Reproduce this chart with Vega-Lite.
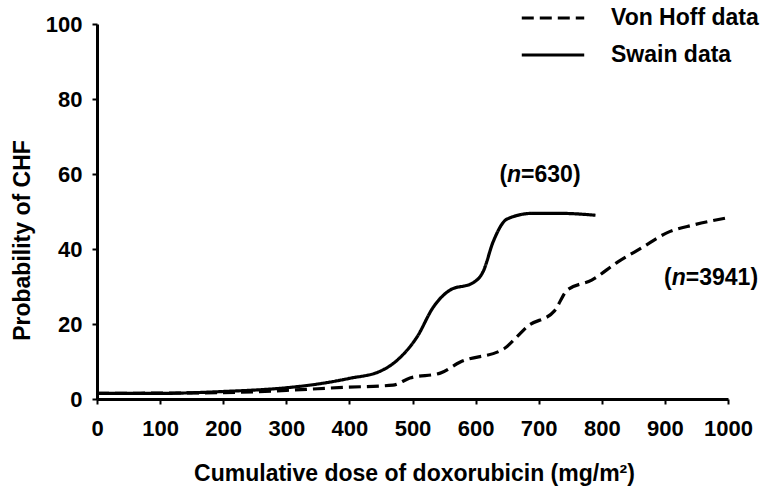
{
  "$schema": "https://vega.github.io/schema/vega-lite/v6.json",
  "autosize": "none",
  "width": 631,
  "height": 375,
  "padding": {"left": 97, "top": 24, "right": 44, "bottom": 87},
  "background": "white",
  "config": {
    "view": {"stroke": null},
    "font": "Liberation Sans",
    "axis": {"grid": false, "domainColor": "black", "domainWidth": 3, "tickColor": "black", "tickWidth": 2, "tickSize": 5, "labelFont": "Liberation Sans", "labelFontWeight": "bold", "labelFontSize": 22, "labelColor": "black", "labelOverlap": false, "labelFlush": false, "titleFont": "Liberation Sans", "titleFontWeight": "bold", "titleFontSize": 23, "titleColor": "black"}
  },
  "datasets": {
    "curves": [
      {"series": "Swain data", "dose": 0, "prob": 1.5},
      {"series": "Swain data", "dose": 100, "prob": 1.5},
      {"series": "Swain data", "dose": 200, "prob": 2},
      {"series": "Swain data", "dose": 300, "prob": 3},
      {"series": "Swain data", "dose": 350, "prob": 4},
      {"series": "Swain data", "dose": 400, "prob": 5.5},
      {"series": "Swain data", "dose": 450, "prob": 7.5},
      {"series": "Swain data", "dose": 480, "prob": 11},
      {"series": "Swain data", "dose": 507, "prob": 16.5},
      {"series": "Swain data", "dose": 533, "prob": 24.5},
      {"series": "Swain data", "dose": 559, "prob": 29},
      {"series": "Swain data", "dose": 596, "prob": 31},
      {"series": "Swain data", "dose": 612, "prob": 34},
      {"series": "Swain data", "dose": 628, "prob": 42},
      {"series": "Swain data", "dose": 650, "prob": 48},
      {"series": "Swain data", "dose": 690, "prob": 49.5},
      {"series": "Swain data", "dose": 735, "prob": 49.5},
      {"series": "Swain data", "dose": 790, "prob": 49},
      {"series": "Von Hoff data", "dose": 0, "prob": 1.5},
      {"series": "Von Hoff data", "dose": 200, "prob": 1.7},
      {"series": "Von Hoff data", "dose": 300, "prob": 2.3},
      {"series": "Von Hoff data", "dose": 390, "prob": 3.1},
      {"series": "Von Hoff data", "dose": 469, "prob": 3.7},
      {"series": "Von Hoff data", "dose": 496, "prob": 5.6},
      {"series": "Von Hoff data", "dose": 544, "prob": 6.9},
      {"series": "Von Hoff data", "dose": 575, "prob": 9.8},
      {"series": "Von Hoff data", "dose": 645, "prob": 13.4},
      {"series": "Von Hoff data", "dose": 665, "prob": 16.5},
      {"series": "Von Hoff data", "dose": 681, "prob": 19.2},
      {"series": "Von Hoff data", "dose": 725, "prob": 23.5},
      {"series": "Von Hoff data", "dose": 745, "prob": 29},
      {"series": "Von Hoff data", "dose": 784, "prob": 31.7},
      {"series": "Von Hoff data", "dose": 825, "prob": 36.5},
      {"series": "Von Hoff data", "dose": 865, "prob": 40.5},
      {"series": "Von Hoff data", "dose": 903, "prob": 44.3},
      {"series": "Von Hoff data", "dose": 945, "prob": 46.4},
      {"series": "Von Hoff data", "dose": 998, "prob": 48.3}
    ],
    "notes": [
      {"dose": 661, "prob": 59.7, "pre": "(", "n": "n", "post": "=630)"},
      {"dose": 922, "prob": 32.3, "pre": "(", "n": "n", "post": "=3941)"}
    ]
  },
  "layer": [
    {
      "data": {"name": "curves"},
      "mark": {"type": "line", "interpolate": "monotone", "strokeWidth": 3.2, "color": "black"},
      "encoding": {
        "x": {"field": "dose", "type": "quantitative", "scale": {"domain": [0, 1000], "nice": false}, "axis": {"values": [0, 100, 200, 300, 400, 500, 600, 700, 800, 900, 1000], "format": "d", "labelPadding": 14, "title": "Cumulative dose of doxorubicin (mg/m²)", "titleX": 317, "titleY": 74, "titleBaseline": "middle", "titleAlign": "center"}},
        "y": {"field": "prob", "type": "quantitative", "scale": {"domain": [0, 100], "nice": false}, "axis": {"values": [0, 20, 40, 60, 80, 100], "labelPadding": 10, "title": "Probability of CHF", "titleX": -75, "titleY": 216, "titleBaseline": "middle", "titleAlign": "center"}},
        "strokeDash": {"field": "series", "type": "nominal", "scale": {"domain": ["Von Hoff data", "Swain data"], "range": [[12, 6], [1, 0]]}, "legend": {"title": null, "orient": "none", "legendX": 423, "legendY": -21, "symbolType": "stroke", "symbolSize": 3900, "clipHeight": 30, "symbolStrokeWidth": 3, "symbolStrokeColor": "black", "symbolDash": [8, 7], "labelFont": "Liberation Sans", "labelFontWeight": "bold", "labelFontSize": 23, "labelColor": "black", "labelOffset": 25, "rowPadding": 7}}
      }
    },
    {
      "data": {"name": "notes"},
      "mark": {"type": "text", "font": "Liberation Sans", "fontWeight": "bold", "fontStyle": "italic", "fontSize": 23, "align": "center", "baseline": "middle", "color": "black"},
      "encoding": {"x": {"field": "dose", "type": "quantitative"}, "y": {"field": "prob", "type": "quantitative"}, "text": {"field": "n"}}
    },
    {
      "data": {"name": "notes"},
      "mark": {"type": "text", "font": "Liberation Sans", "fontWeight": "bold", "fontSize": 23, "align": "right", "baseline": "middle", "dx": -7, "color": "black"},
      "encoding": {"x": {"field": "dose", "type": "quantitative"}, "y": {"field": "prob", "type": "quantitative"}, "text": {"field": "pre"}}
    },
    {
      "data": {"name": "notes"},
      "mark": {"type": "text", "font": "Liberation Sans", "fontWeight": "bold", "fontSize": 23, "align": "left", "baseline": "middle", "dx": 7, "color": "black"},
      "encoding": {"x": {"field": "dose", "type": "quantitative"}, "y": {"field": "prob", "type": "quantitative"}, "text": {"field": "post"}}
    }
  ]
}
